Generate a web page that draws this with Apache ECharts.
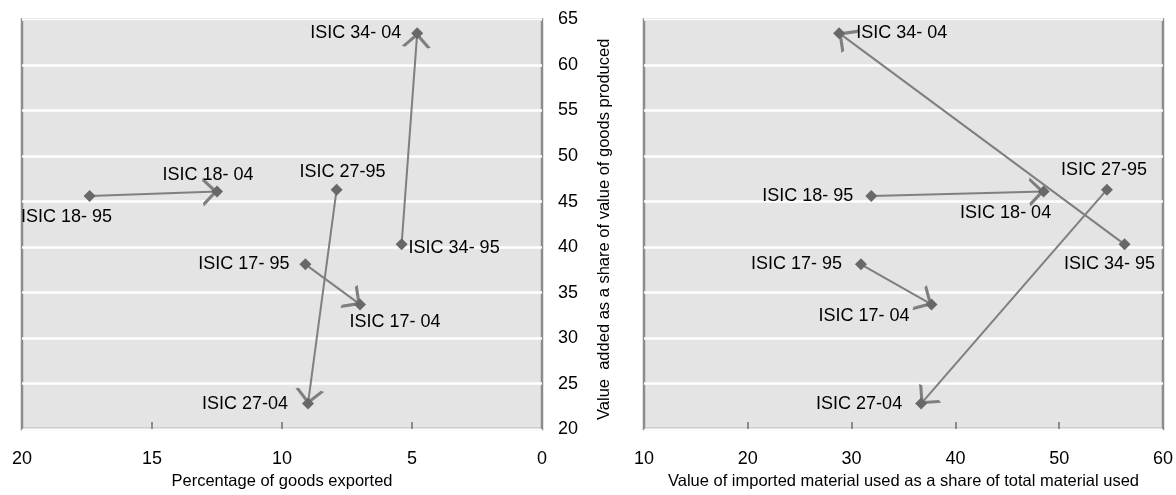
<!DOCTYPE html>
<html>
<head>
<meta charset="utf-8">
<script src="https://cdn.jsdelivr.net/npm/echarts@6/dist/echarts.min.js"></script>
<style>
html,body{margin:0;padding:0;background:#fff;}
#chart{width:1176px;height:495px;}
</style>
</head>
<body>
<div id="chart"></div>
<script>
// ---- data ----
var pointLabels = ['ISIC 17- 95','ISIC 17- 04','ISIC 18- 95','ISIC 18- 04','ISIC 27-95','ISIC 27-04','ISIC 34- 95','ISIC 34- 04'];
var exportedShare = [9.1, 7.0, 17.4, 12.5, 7.9, 9.0, 5.4, 4.8];
var importedShare = [30.9, 37.7, 31.9, 48.5, 54.6, 36.7, 56.3, 28.8];
var valueAddedShare = [38.1, 33.7, 45.6, 46.1, 46.3, 22.8, 40.3, 63.5];
var arrowPairs = [[0,1],[2,3],[4,5],[6,7]]; // from 1995 to 2004
var leftXTicks = [0, 20, 5];
var rightXTicks = [10, 60, 10];
var yTicks = [20, 65, 5];

// ---- style ----
var FONT = 'Liberation Sans, Arial, sans-serif';
var LINE = '#7f7f7f';
var MARK = '#686868';
var BORDER = '#8c8c8c';
var BG = '#e4e4e4';

// label placement per point (left panel / right panel)
var leftLabelCfg = [
  {position:'left', distance:10},
  {position:'bottom', distance:3, offset:[35,0]},
  {position:'bottom', distance:6, offset:[-23,0]},
  {position:'top', distance:2, offset:[-9,0]},
  {position:'top', distance:3, offset:[6,0]},
  {position:'left', distance:14},
  {position:'right', distance:1, offset:[0,4]},
  {position:'left', distance:10}
];
var rightLabelCfg = [
  {position:'left', distance:13},
  {position:'left', distance:16, offset:[0,12]},
  {position:'left', distance:12},
  {position:'bottom', distance:6, offset:[-38,0]},
  {position:'top', distance:5, offset:[-3,0]},
  {position:'left', distance:13},
  {position:'bottom', distance:5, offset:[-15,0]},
  {position:'right', distance:11}
];

// open chevron arrowhead, tip at centre of the symbol box
var chevron = 'path://M-0.05,-14.5L0.05,-14.5L0,-14.45Z M0,-1L7.6,13.6L5.8,14.5L0,3.5L-5.8,14.5L-7.6,13.6Z';

function scatterData(xs, cfg) {
  return xs.map(function (x, i) {
    var c = cfg[i];
    return {
      value: [x, valueAddedShare[i]],
      label: {
        show: true,
        formatter: pointLabels[i],
        position: c.position,
        distance: c.distance,
        offset: c.offset || [0,0]
      }
    };
  });
}
function lineData(xs) {
  return arrowPairs.map(function (p) {
    return {coords: [[xs[p[0]], valueAddedShare[p[0]]], [xs[p[1]], valueAddedShare[p[1]]]]};
  });
}

var labelText = {fontFamily: FONT, fontSize: 18, color: '#000'};

function xAxisCfg(idx, ticks, name, inverse, labelMargin, nameGap) {
  return {
    type: 'value', gridIndex: idx, min: ticks[0], max: ticks[1], interval: ticks[2],
    inverse: inverse,
    axisLine: {show: false},
    axisTick: {show: true, inside: true, length: 7, lineStyle: {color: BORDER, width: 2}},
    axisLabel: {margin: labelMargin, fontFamily: FONT, fontSize: 18, color: '#000'},
    splitLine: {show: false},
    name: name, nameLocation: 'middle', nameGap: nameGap,
    nameTextStyle: {fontFamily: FONT, fontSize: 16.5, color: '#000'}
  };
}

var option = {
  animation: false,
  backgroundColor: '#fff',
  grid: [
    {left: 22, right: 634, top: 19.5, bottom: 58, show: true, backgroundColor: BG, borderColor: BORDER, borderWidth: 2.5},
    {left: 644, right: 12, top: 19.5, bottom: 58, show: true, backgroundColor: BG, borderColor: BORDER, borderWidth: 2.5}
  ],
  xAxis: [
    xAxisCfg(0, leftXTicks, 'Percentage of goods exported', true, 21, 42),
    xAxisCfg(1, rightXTicks, 'Value of imported material used as a share of total material used', false, 21, 42)
  ],
  yAxis: [
    {
      type: 'value', gridIndex: 0, position: 'right', min: yTicks[0], max: yTicks[1], interval: yTicks[2],
      axisLine: {show: false}, axisTick: {show: false},
      axisLabel: {margin: 16, fontFamily: FONT, fontSize: 18, color: '#000'},
      splitLine: {show: true, lineStyle: {color: '#ffffff', width: 2.5}}
    },
    {
      type: 'value', gridIndex: 1, position: 'left', min: yTicks[0], max: yTicks[1], interval: yTicks[2],
      axisLine: {show: false}, axisTick: {show: false},
      axisLabel: {show: false},
      splitLine: {show: true, lineStyle: {color: '#ffffff', width: 2.5}},
      name: 'Value  added as a share of value of goods produced',
      nameLocation: 'middle', nameGap: 31,
      nameTextStyle: {fontFamily: FONT, fontSize: 16.5, color: '#000', padding: [0, 10, 0, 0]}
    }
  ],
  series: [
    {
      type: 'lines', coordinateSystem: 'cartesian2d', xAxisIndex: 0, yAxisIndex: 0,
      symbol: ['none', chevron], symbolSize: [15.2, 29],
      lineStyle: {color: LINE, width: 2, opacity: 1, curveness: 0},
      data: lineData(exportedShare), z: 3
    },
    {
      type: 'lines', coordinateSystem: 'cartesian2d', xAxisIndex: 1, yAxisIndex: 1,
      symbol: ['none', chevron], symbolSize: [15.2, 29],
      lineStyle: {color: LINE, width: 2, opacity: 1, curveness: 0},
      data: lineData(importedShare), z: 3
    },
    {
      type: 'scatter', xAxisIndex: 0, yAxisIndex: 0, symbol: 'diamond', symbolSize: 12,
      itemStyle: {color: MARK, opacity: 1},
      label: labelText,
      data: scatterData(exportedShare, leftLabelCfg), z: 5
    },
    {
      type: 'scatter', xAxisIndex: 1, yAxisIndex: 1, symbol: 'diamond', symbolSize: 12,
      itemStyle: {color: MARK, opacity: 1},
      label: labelText,
      data: scatterData(importedShare, rightLabelCfg), z: 5
    }
  ]
};

var chart = echarts.init(document.getElementById('chart'), null, {renderer: 'canvas'});
chart.setOption(option);
</script>
</body>
</html>
